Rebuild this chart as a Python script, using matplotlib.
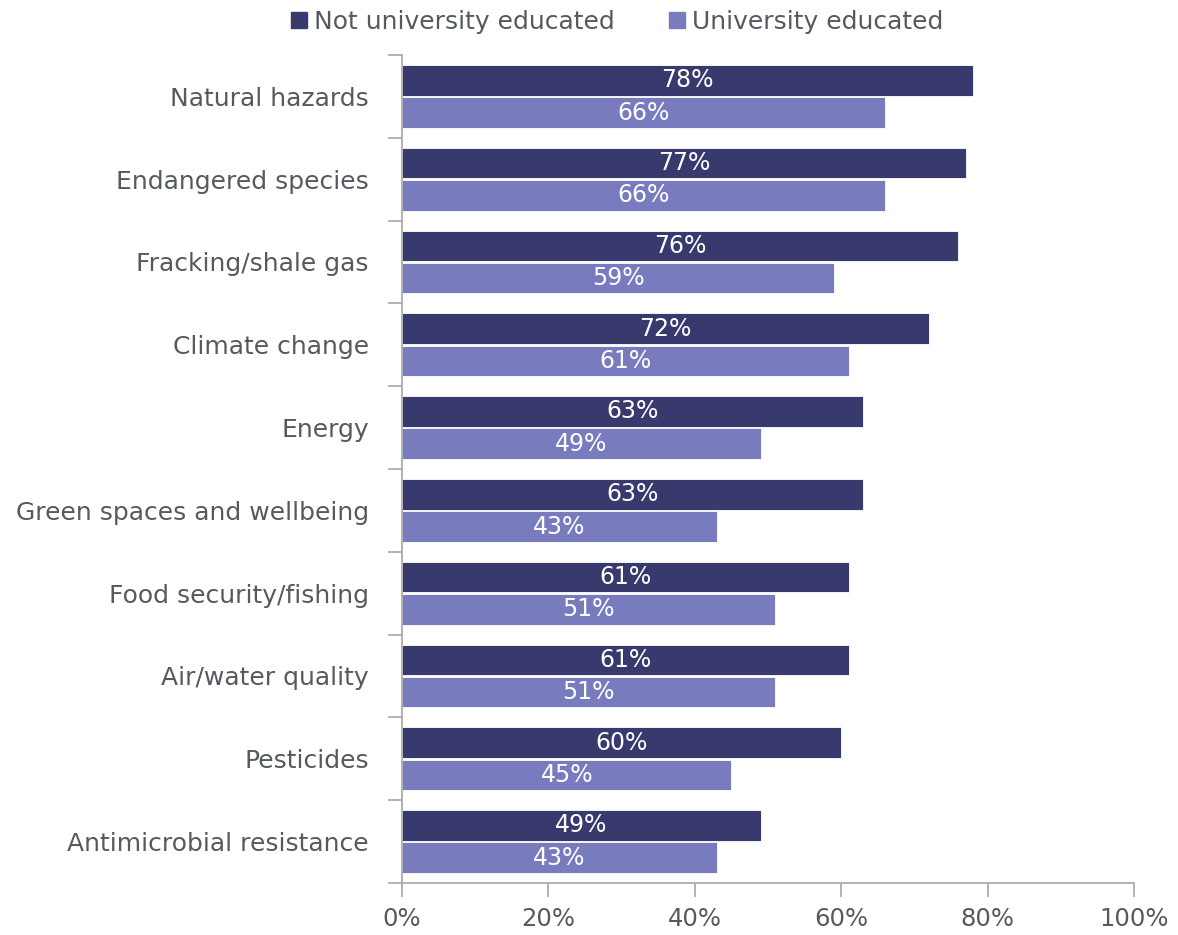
import numpy as np
import matplotlib
matplotlib.use("Agg")
import matplotlib.pyplot as plt
from matplotlib.lines import Line2D

categories = ["Natural hazards", "Endangered species", "Fracking/shale gas",
              "Climate change", "Energy", "Green spaces and wellbeing",
              "Food security/fishing", "Air/water quality", "Pesticides",
              "Antimicrobial resistance"]
not_uni = [78, 77, 76, 72, 63, 63, 61, 61, 60, 49]
uni = [66, 66, 59, 61, 49, 43, 51, 51, 45, 43]
series_names = ["Not university educated", "University educated"]
x_ticks = [0, 20, 40, 60, 80, 100]

dark = "#383a6e"
light = "#787bbd"
grey_text = "#555a5f"
axis_grey = "#a6a6a6"

fig = plt.figure(figsize=(11.78, 9.35), dpi=100)
ax = fig.add_axes([402 / 1178, 52 / 935, 732 / 1178, 828 / 935])

n = len(categories)
y = np.arange(n)
h = 0.37
gap = 0.02
b1 = ax.barh(y - h / 2 - gap / 2, not_uni, height=h, color=dark, edgecolor="white", linewidth=0.6)
b2 = ax.barh(y + h / 2 + gap / 2, uni, height=h, color=light, edgecolor="white", linewidth=0.6)

for bars, vals in ((b1, not_uni), (b2, uni)):
    for bar, v in zip(bars, vals):
        ax.text(v / 2, bar.get_y() + bar.get_height() / 2, f"{v}%",
                ha="center", va="center", color="white", fontsize=17)

ax.set_ylim(n - 0.5, -0.5)
ax.set_xlim(0, 100)

# category labels between boundary ticks
ax.set_yticks(np.arange(n + 1) - 0.5)
ax.set_yticklabels([])
ax.set_yticks(y, minor=True)
ax.set_yticklabels(categories, minor=True, fontsize=18, color=grey_text)
ax.tick_params(axis="y", which="minor", length=0, pad=24)
ax.tick_params(axis="y", which="major", length=10, width=1.2, color=axis_grey, direction="out")

ax.set_xticks(x_ticks)
ax.set_xticklabels([f"{t}%" for t in x_ticks], fontsize=17.5, color=grey_text)
ax.tick_params(axis="x", length=10, width=1.2, color=axis_grey, pad=7)

for s in ("top", "right"):
    ax.spines[s].set_visible(False)
for s in ("left", "bottom"):
    ax.spines[s].set_color(axis_grey)
    ax.spines[s].set_linewidth(1.2)

handles = [Line2D([], [], marker="s", linestyle="none", markersize=11, color=c)
           for c in (dark, light)]
fig.legend(handles, series_names, loc="center", bbox_to_anchor=(615 / 1178, 1 - 22 / 935),
           ncol=2, frameon=False, fontsize=18, labelcolor=grey_text,
           handletextpad=0.1, columnspacing=2.0, handlelength=1.0)

fig.savefig("out.png", dpi=100)
